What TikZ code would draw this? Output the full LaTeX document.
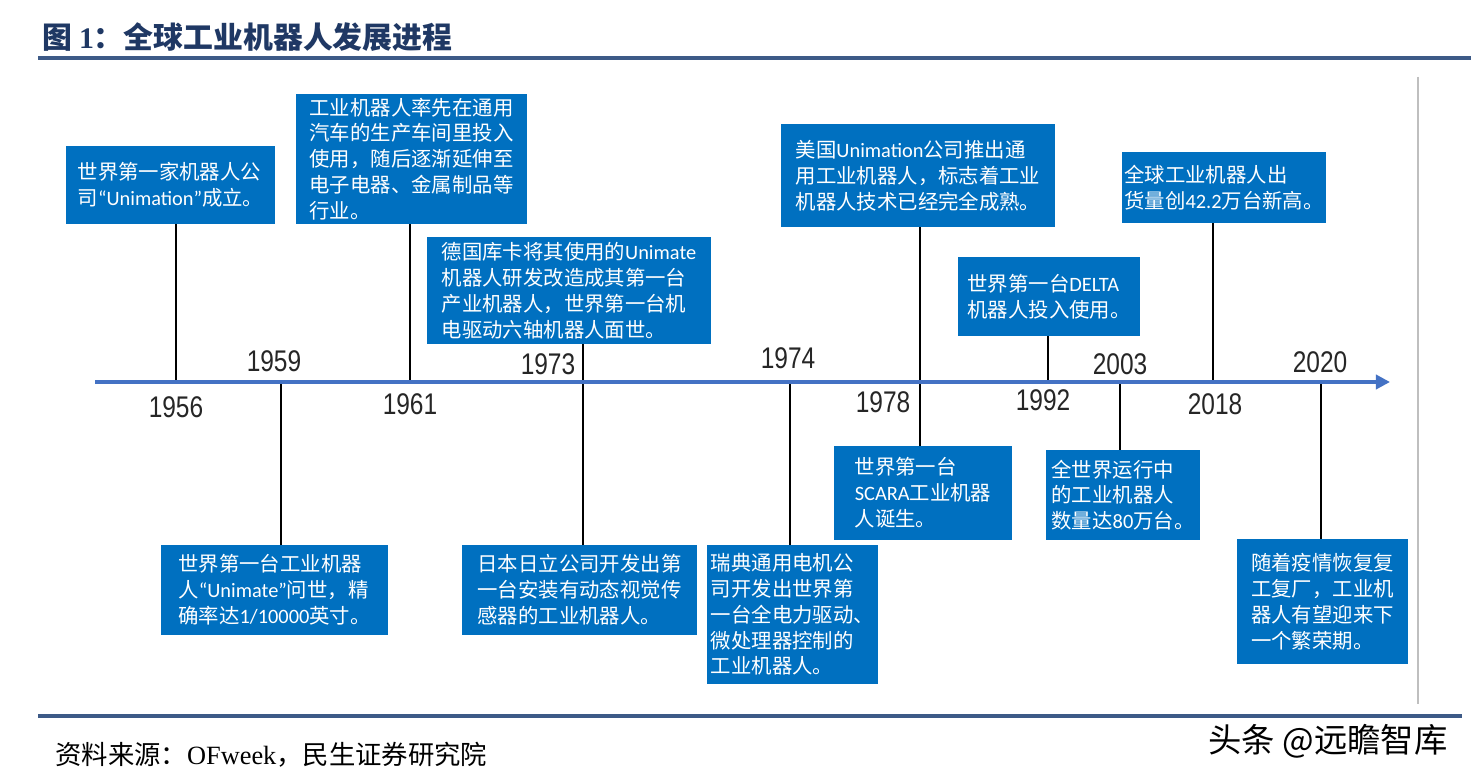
\documentclass[tikz,border=0pt]{standalone}
\usepackage{fontspec}
\setmainfont{Noto Sans CJK SC}
\newfontfamily\latfont{Carlito}
\newfontfamily\yearfont[FakeStretch=0.82]{Liberation Sans}
\newfontfamily\timesfont{Liberation Serif}
\usetikzlibrary{arrows.meta}
\definecolor{boxblue}{RGB}{0,112,192}
\definecolor{axisblue}{RGB}{68,114,196}
\definecolor{titleblue}{RGB}{31,56,100}
\definecolor{ruleblue}{RGB}{61,90,135}
\newcommand{\la}[1]{{\latfont #1}}

\begin{document}
\begin{tikzpicture}[x=0.02cm, y=-0.02cm,
    block/.style={rectangle, fill=boxblue, text=white, align=left, inner sep=0pt, font=\fontsize{11.6}{14.7}\selectfont},
    boxsize/.style 2 args={minimum width=#1*0.02cm, minimum height=#2*0.02cm},
    stem/.style={draw, line width=0.8pt},
    year/.style={font=\yearfont\fontsize{17}{20}\selectfont, text=black!85, inner sep=0pt},
    axis/.style={draw=axisblue, line width=2.3pt, -{Triangle[length=8pt, width=8pt]}}]
    \fill[white] (0,0) rectangle (1471,784);
    \useasboundingbox (0,0) rectangle (1471,784);

    % title and frame
    \node[anchor=west, inner sep=0pt, text=titleblue, font=\bfseries\fontsize{17}{20}\selectfont] (title) at (42,37) {图 {\timesfont 1}：全球工业机器人发展进程};
    \draw[ruleblue, line width=2.3pt] (38,58) -- (1471,58);
    \draw[black!25, line width=0.6pt] (1418,77) -- (1418,704);
    \draw[ruleblue, line width=2.3pt] (38,716) -- (1462,716);
    \node[anchor=west, inner sep=0pt, font=\fontsize{15}{18}\selectfont] (source) at (55,755) {资料来源：{\timesfont OFweek}，民生证券研究院};
    \node[anchor=east, inner sep=0pt, font=\fontsize{19}{22}\selectfont] (mark) at (1448,741) {头条 @远瞻智库};

    % time axis
    \coordinate (axisL) at (95,382);
    \coordinate (axisR) at (1390,382);
    \coordinate (t56) at (176,382);
    \coordinate (t59) at (281,382);
    \coordinate (t61) at (410,382);
    \coordinate (t73) at (583,382);
    \coordinate (t74) at (790,382);
    \coordinate (t78) at (920,382);
    \coordinate (t92) at (1048,382);
    \coordinate (t03) at (1120,382);
    \coordinate (t18) at (1213,382);
    \coordinate (t20) at (1321,382);

    % events
    \node[block, boxsize={209}{78}] (b56) at (170.5,185) {世界第一家机器人公\\司\la{“Unimation”}成立。};
    \node[block, boxsize={231}{130}] (b61) at (411.5,159) {工业机器人率先在通用\\汽车的生产车间里投入\\使用，随后逐渐延伸至\\电子电器、金属制品等\\行业。};
    \node[block, boxsize={284}{107}] (b73a) at (569,290.5) {德国库卡将其使用的\la{Unimate}\\机器人研发改造成其第一台\\产业机器人，世界第一台机\\电驱动六轴机器人面世。};
    \node[block, boxsize={227}{90}] (b59) at (274.5,590) {世界第一台工业机器\\人\la{“Unimate”}问世，精\\确率达\la{1/10000}英寸。};
    \node[block, boxsize={235}{90}] (b73b) at (579.5,590) {日本日立公司开发出第\\一台安装有动态视觉传\\感器的工业机器人。};
    \node[block, boxsize={171}{139}] (b74) at (792.5,614.5) {瑞典通用电机公\\司开发出世界第\\一台全电力驱动、\\微处理器控制的\\工业机器人。};
    \node[block, boxsize={274}{103}] (b78a) at (918,175.5) {美国\la{Unimation}公司推出通\\用工业机器人，标志着工业\\机器人技术已经完全成熟。};
    \node[block, boxsize={178}{94}] (b78b) at (923,493) {世界第一台\\\la{SCARA}工业机器\\人诞生。};
    \node[block, boxsize={182}{79}] (b92) at (1049,296.5) {世界第一台\la{DELTA}\\机器人投入使用。};
    \node[block, boxsize={154}{90}] (b03) at (1123,495) {全世界运行中\\的工业机器人\\数量达\la{80}万台。};
    \node[block, boxsize={204}{71}] (b18) at (1224,187.5) {全球工业机器人出\\货量创\la{42.2}万台新高。};
    \node[block, boxsize={171}{125}] (b20) at (1322.5,601.5) {随着疫情恢复复\\工复厂，工业机\\器人有望迎来下\\一个繁荣期。};

    % stems
    \path[stem] (t56 |- b56.south) -- (t56);
    \path[stem] (t59) -- (t59 |- b59.north);
    \path[stem] (t61 |- b61.south) -- (t61);
    \path[stem] (t73 |- b73a.south) -- (t73 |- b73b.north);
    \path[stem] (t74) -- (t74 |- b74.north);
    \path[stem] (t78 |- b78a.south) -- (t78 |- b78b.north);
    \path[stem] (t92 |- b92.south) -- (t92);
    \path[stem] (t03) -- (t03 |- b03.north);
    \path[stem] (t18 |- b18.south) -- (t18);
    \path[stem] (t20) -- (t20 |- b20.north);

    \path[axis] (axisL) -- (axisR);

    % years
    \node[year] (y56) at (176,407) {1956};
    \node[year] (y59) at (274,361) {1959};
    \node[year] (y61) at (410,404) {1961};
    \node[year] (y73) at (548,364) {1973};
    \node[year] (y74) at (788,358) {1974};
    \node[year] (y78) at (883,402) {1978};
    \node[year] (y92) at (1043,400) {1992};
    \node[year] (y03) at (1120,364) {2003};
    \node[year] (y18) at (1215,404) {2018};
    \node[year] (y20) at (1320,362) {2020};
\end{tikzpicture}
\end{document}
